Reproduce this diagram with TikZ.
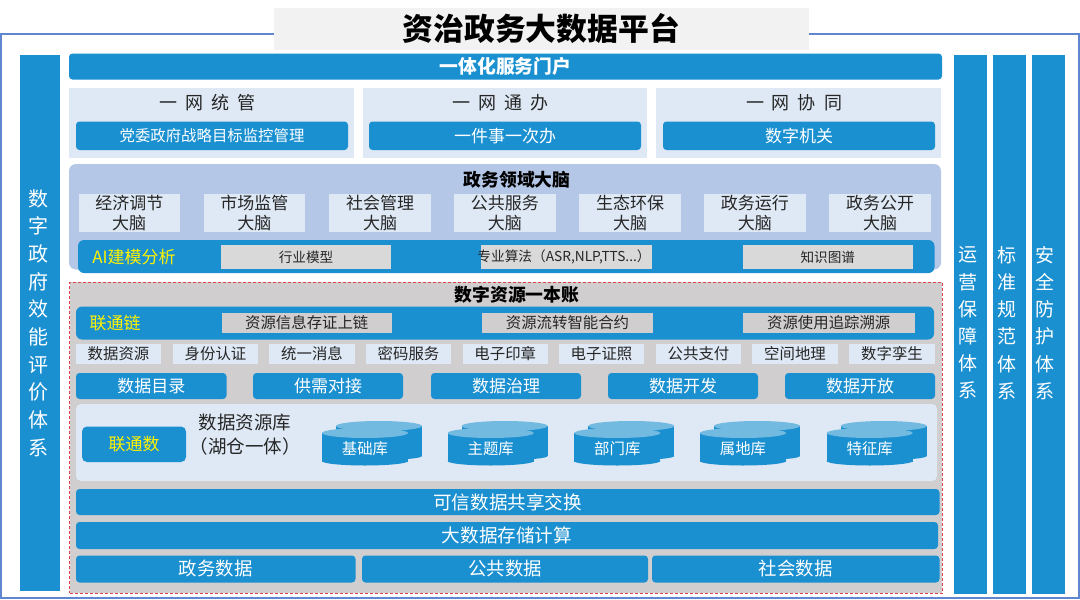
\documentclass[tikz,border=0pt]{standalone}
\usepackage{fontspec}
\setmainfont{Noto Sans CJK SC}
\definecolor{barblue}{HTML}{1B90D0}
\definecolor{paleblue}{HTML}{DEE9F5}
\definecolor{brainblue}{HTML}{B4C7E7}
\definecolor{slategrey}{HTML}{D0CECE}
\definecolor{chipgrey}{HTML}{D9D9D9}
\definecolor{cyltop}{HTML}{73BAE0}
\definecolor{framecol}{HTML}{5F86CE}
\definecolor{inkdark}{HTML}{262626}
\definecolor{dashred}{HTML}{E0404A}
\newcommand{\fs}[1]{\fontsize{#1}{#1}\selectfont}
\tikzset{
  boxbase/.style={inner sep=0pt,outer sep=0pt,align=center},
  bluebar/.style={boxbase,fill=barblue,rounded corners=3.5pt,text=white},
  bluesq/.style={boxbase,fill=barblue,text=white},
  palesq/.style={boxbase,fill=paleblue,text=inkdark},
  chip/.style={boxbase,fill=chipgrey,text=inkdark},
  lbl/.style={inner sep=0pt,outer sep=0pt,align=center,text=inkdark},
  whitelbl/.style={lbl,text=white},
  yellowlbl/.style={lbl,text=yellow},
}
\newcommand{\bx}[7]{%
  \pgfmathsetmacro{\bxw}{#4-#2}\pgfmathsetmacro{\bxh}{#5-#3}%
  \pgfmathsetmacro{\bxcx}{(#2+#4)/2}\pgfmathsetmacro{\bxcy}{(#3+#5)/2}%
  \node[#6,minimum width=\bxw pt,minimum height=\bxh pt] (#1) at (\bxcx,\bxcy) {#7};}
\newcommand{\cyl}[3]{%
  \pgfmathsetmacro{\cxa}{#2+14}\pgfmathsetmacro{\cxb}{#2+57}\pgfmathsetmacro{\cxc}{#2+100}%
  \fill[barblue] (\cxa,426) rectangle (\cxc,456);
  \fill[barblue] (\cxb,456) ellipse [x radius=43pt,y radius=4pt];
  \fill[cyltop] (\cxb,426) ellipse [x radius=43pt,y radius=5pt];
  \pgfmathsetmacro{\cxd}{#2+86}\pgfmathsetmacro{\cxe}{#2+43}%
  \fill[barblue] (#2,433) rectangle (\cxd,462);
  \fill[barblue] (\cxe,461) ellipse [x radius=43pt,y radius=4.5pt];
  \fill[cyltop] (\cxe,433) ellipse [x radius=43pt,y radius=5pt];
  \node[whitelbl,font=\fs{15.4}] (#1) at (\cxe,449) {#3};}
\begin{document}
\begin{tikzpicture}[x=1pt,y=-1pt]
\useasboundingbox (0,0) rectangle (1080,600);
\fill[white] (0,0) rectangle (1080,600);
\draw[framecol,line width=1.5pt] (1,34) rectangle (1079,598);
\bx{titlebox}{273.5}{7.5}{809}{50}{boxbase,fill=black!5,font=\fs{30.8}\bfseries,text=black}{资治政务大数据平台}

% side bars
\bx{leftbar}{19.5}{55}{60}{591}{bluesq}{}
\node[whitelbl,font=\fontsize{20}{27.7}\selectfont] (lefttxt) at (38,323) {数\\字\\政\\府\\效\\能\\评\\价\\体\\系};
\bx{rbara}{954}{55}{987}{594}{bluesq}{}
\bx{rbarb}{993}{55}{1026}{594}{bluesq}{}
\bx{rbarc}{1031.5}{55}{1065}{594}{bluesq}{}
\node[whitelbl,font=\fontsize{19}{27.2}\selectfont] (rtxta) at (967.5,323) {运\\营\\保\\障\\体\\系};
\node[whitelbl,font=\fontsize{19}{27.2}\selectfont] (rtxtb) at (1007,323) {标\\准\\规\\范\\体\\系};
\node[whitelbl,font=\fontsize{19}{27.2}\selectfont] (rtxtc) at (1045,323) {安\\全\\防\\护\\体\\系};

% portal
\bx{portal}{69}{53.5}{942}{79.5}{bluebar,font=\fs{18.8}\bfseries}{一体化服务门户}

% three panels
\bx{pa}{69}{88}{354}{158}{palesq}{}
\bx{pb}{362.5}{88}{647}{158}{palesq}{}
\bx{pc}{655.5}{88}{940.5}{158}{palesq}{}
\node[lbl,font=\fs{18}] (pat) at (207.5,103) {{\spaceskip=8pt 一 网 统 管}};
\node[lbl,font=\fs{18}] (pbt) at (500.5,103) {{\spaceskip=8pt 一 网 通 办}};
\node[lbl,font=\fs{18}] (pct) at (794,103) {{\spaceskip=8pt 一 网 协 同}};
\bx{pai}{76}{121.5}{348}{150}{bluebar,font=\fs{15.4}}{党委政府战略目标监控管理}
\bx{pbi}{369}{121.5}{641}{150}{bluebar,font=\fs{17}}{一件事一次办}
\bx{pci}{663}{121.5}{935}{150}{bluebar,font=\fs{17}}{数字机关}

% brain panel
\bx{brain}{69}{164}{941}{269.5}{boxbase,fill=brainblue,rounded corners=7pt}{}
\node[lbl,text=black,font=\fs{17.8}\bfseries] (braint) at (517,180) {政务领域大脑};
\bx{ba}{78.5}{194}{180}{232}{palesq,font=\fontsize{17}{20.5}\selectfont}{经济调节\\大脑}
\bx{bb}{203.5}{194}{305}{232}{palesq,font=\fontsize{17}{20.5}\selectfont}{市场监管\\大脑}
\bx{bc}{329}{194}{431}{232}{palesq,font=\fontsize{17}{20.5}\selectfont}{社会管理\\大脑}
\bx{bd}{454}{194}{555.5}{232}{palesq,font=\fontsize{17}{20.5}\selectfont}{公共服务\\大脑}
\bx{be}{579}{194}{681}{232}{palesq,font=\fontsize{17}{20.5}\selectfont}{生态环保\\大脑}
\bx{bf}{704}{194}{805.5}{232}{palesq,font=\fontsize{17}{20.5}\selectfont}{政务运行\\大脑}
\bx{bg}{829}{194}{931}{232}{palesq,font=\fontsize{17}{20.5}\selectfont}{政务公开\\大脑}
\bx{aibar}{78}{240}{934.5}{273}{bluebar,rounded corners=6pt}{}
\node[yellowlbl,font=\fs{17}] (ait) at (134,257) {AI建模分析};
\bx{aia}{221}{245}{391}{269}{chip,font=\fs{13.6}}{行业模型}
\bx{aib}{481}{245}{652}{269}{chip}{}
\node[lbl,font=\fs{13.7}] (aibt) at (564,257) {专业算法（ASR,NLP,TTS...）};
\bx{aic}{742.5}{245}{913}{269}{chip,font=\fs{13.6}}{知识图谱}

% resource ledger
\bx{ledger}{69.5}{282}{942}{593}{boxbase,fill=slategrey,draw=dashred,densely dashed,line width=0.8pt}{}
\node[lbl,text=black,font=\fs{17.8}\bfseries] (ledgert) at (517,295) {数字资源一本账};
\bx{chain}{76}{306.5}{934}{339.5}{bluebar,rounded corners=6pt}{}
\node[yellowlbl,font=\fs{17}] (chaint) at (115,323) {联通链};
\bx{cha}{221.5}{313}{392}{332.5}{boxbase,fill=slategrey,text=inkdark,font=\fs{15.4}}{资源信息存证上链}
\bx{chb}{482}{313}{653}{332.5}{boxbase,fill=slategrey,text=inkdark,font=\fs{15.4}}{资源流转智能合约}
\bx{chc}{743}{313}{914.5}{332.5}{boxbase,fill=slategrey,text=inkdark,font=\fs{15.4}}{资源使用追踪溯源}

\bx{sa}{76}{344}{161}{364}{palesq,font=\fs{15.4}}{数据资源}
\bx{sb}{173}{344}{258}{364}{palesq,font=\fs{15.4}}{身份认证}
\bx{sc}{269}{344}{355}{364}{palesq,font=\fs{15.4}}{统一消息}
\bx{sd}{366}{344}{451}{364}{palesq,font=\fs{15.4}}{密码服务}
\bx{se}{462.5}{344}{548}{364}{palesq,font=\fs{15.4}}{电子印章}
\bx{sf}{559}{344}{644}{364}{palesq,font=\fs{15.4}}{电子证照}
\bx{sg}{656}{344}{741}{364}{palesq,font=\fs{15.4}}{公共支付}
\bx{sh}{752}{344}{838}{364}{palesq,font=\fs{15.4}}{空间地理}
\bx{si}{849}{344}{935}{364}{palesq,font=\fs{15.4}}{数字孪生}

\bx{ra}{76}{373}{226.5}{399}{bluebar,font=\fs{17}}{数据目录}
\bx{rb}{253}{373}{403}{399}{bluebar,font=\fs{17}}{供需对接}
\bx{rc}{431}{373}{581}{399}{bluebar,font=\fs{17}}{数据治理}
\bx{rd}{608}{373}{758}{399}{bluebar,font=\fs{17}}{数据开发}
\bx{re}{785}{373}{935}{399}{bluebar,font=\fs{17}}{数据开放}

\bx{lake}{76}{404}{937}{481}{boxbase,fill=paleblue,rounded corners=5pt}{}
\bx{liantong}{82}{426.5}{186}{462}{bluebar,rounded corners=5pt,text=yellow,font=\fs{17}}{联通数}
\node[lbl,font=\fontsize{18.5}{23.5}\selectfont] (laket) at (245,434.5) {数据资源库\\（湖仓一体）};
\cyl{cya}{322}{基础库}
\cyl{cyb}{447.7}{主题库}
\cyl{cyc}{574.3}{部门库}
\cyl{cyd}{700}{属地库}
\cyl{cye}{826.7}{特征库}

\bx{share}{76}{489}{939.5}{515}{bluebar,font=\fs{18.6}}{可信数据共享交换}
\bx{store}{76}{522}{938}{549}{bluebar,font=\fs{18.6}}{大数据存储计算}
\bx{da}{76}{555.5}{355.5}{582.5}{bluebar,font=\fs{18.4}}{政务数据}
\bx{db}{362}{555.5}{648}{582.5}{bluebar,font=\fs{18.4}}{公共数据}
\bx{dc}{652}{555.5}{939.5}{582.5}{bluebar,font=\fs{18.4}}{社会数据}
\end{tikzpicture}
\end{document}
